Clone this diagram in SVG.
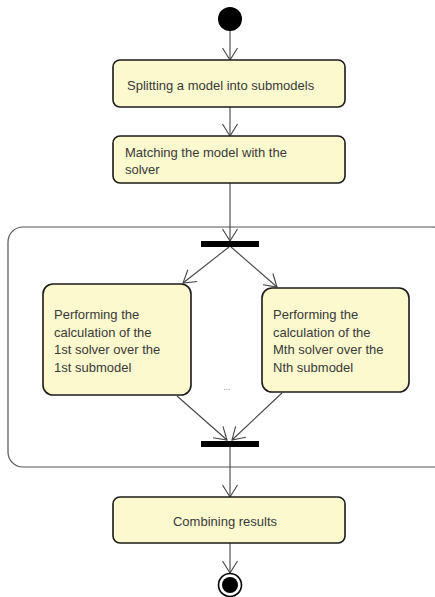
<svg xmlns="http://www.w3.org/2000/svg" width="435" height="597" viewBox="0 0 435 597">
  <style>
    .action { fill: #fbf9cd; stroke: #1a1a1a; stroke-width: 1.6; }
    .label { font-family: "Liberation Sans", Arial, sans-serif; font-size: 13px; fill: #3a3a3a; }
    .flow { fill: none; stroke: #444444; stroke-width: 1.1; }
    .bar { fill: #000000; }
    .region { fill: none; stroke: #555555; stroke-width: 1.2; }
  </style>
  <defs>
    <marker id="open-arrow" viewBox="0 0 14 18" refX="13" refY="9" markerWidth="14" markerHeight="18" markerUnits="userSpaceOnUse" orient="auto">
      <path d="M1,1.5 L13,9 L1,16.5" fill="none" stroke="#444444" stroke-width="1.1"/>
    </marker>
  </defs>
  <rect width="435" height="597" fill="#ffffff"/>

  <!-- parallel execution region -->
  <g id="region">
    <rect class="region" x="8" y="227" width="440" height="240" rx="15" ry="15"/>
    <text class="label" x="227" y="390" text-anchor="middle" style="font-size:9px; fill:#888888">...</text>
  </g>

  <!-- control flows -->
  <g id="connectors">
    <line class="flow" x1="230" y1="31" x2="230" y2="60" marker-end="url(#open-arrow)"/>
    <line class="flow" x1="230" y1="107" x2="230" y2="136" marker-end="url(#open-arrow)"/>
    <line class="flow" x1="230" y1="183" x2="230" y2="241" marker-end="url(#open-arrow)"/>
    <line class="flow" x1="229" y1="247" x2="183" y2="283" marker-end="url(#open-arrow)"/>
    <line class="flow" x1="231" y1="247" x2="277" y2="287" marker-end="url(#open-arrow)"/>
    <line class="flow" x1="177" y1="396" x2="227" y2="440" marker-end="url(#open-arrow)"/>
    <line class="flow" x1="282" y1="393" x2="232" y2="440" marker-end="url(#open-arrow)"/>
    <line class="flow" x1="230" y1="447" x2="230" y2="497" marker-end="url(#open-arrow)"/>
    <line class="flow" x1="230" y1="543" x2="230" y2="573" marker-end="url(#open-arrow)"/>
  </g>

  <g id="start">
    <circle cx="230" cy="19" r="12" fill="#000000"/>
  </g>

  <g id="split">
    <rect class="action" x="113" y="60" width="232" height="47" rx="7" ry="7"/>
    <text class="label" x="127" y="90">Splitting a model into submodels</text>
  </g>

  <g id="match">
    <rect class="action" x="113" y="136" width="232" height="47" rx="7" ry="7"/>
    <text class="label" x="125" y="157">Matching the model with the</text>
    <text class="label" x="125" y="174">solver</text>
  </g>

  <g id="fork">
    <rect class="bar" x="201" y="241" width="58" height="6"/>
  </g>

  <g id="solver-first">
    <rect class="action" x="43" y="284" width="148" height="111" rx="10" ry="10"/>
    <text class="label" x="54" y="319">Performing the</text>
    <text class="label" x="54" y="337">calculation of the</text>
    <text class="label" x="54" y="354">1st solver over the</text>
    <text class="label" x="54" y="372">1st submodel</text>
  </g>

  <g id="solver-nth">
    <rect class="action" x="262" y="288" width="147" height="104" rx="10" ry="10"/>
    <text class="label" x="273" y="319">Performing the</text>
    <text class="label" x="273" y="337">calculation of the</text>
    <text class="label" x="273" y="354">Mth solver over the</text>
    <text class="label" x="273" y="372">Nth submodel</text>
  </g>

  <g id="join">
    <rect class="bar" x="201" y="441" width="58" height="6"/>
  </g>

  <g id="combine">
    <rect class="action" x="113" y="497" width="232" height="46" rx="7" ry="7"/>
    <text class="label" x="225" y="526" text-anchor="middle">Combining results</text>
  </g>

  <g id="end">
    <circle cx="230" cy="585" r="11.5" fill="#ffffff" stroke="#000000" stroke-width="1.6"/>
    <circle cx="230" cy="585" r="8" fill="#000000"/>
  </g>
</svg>
